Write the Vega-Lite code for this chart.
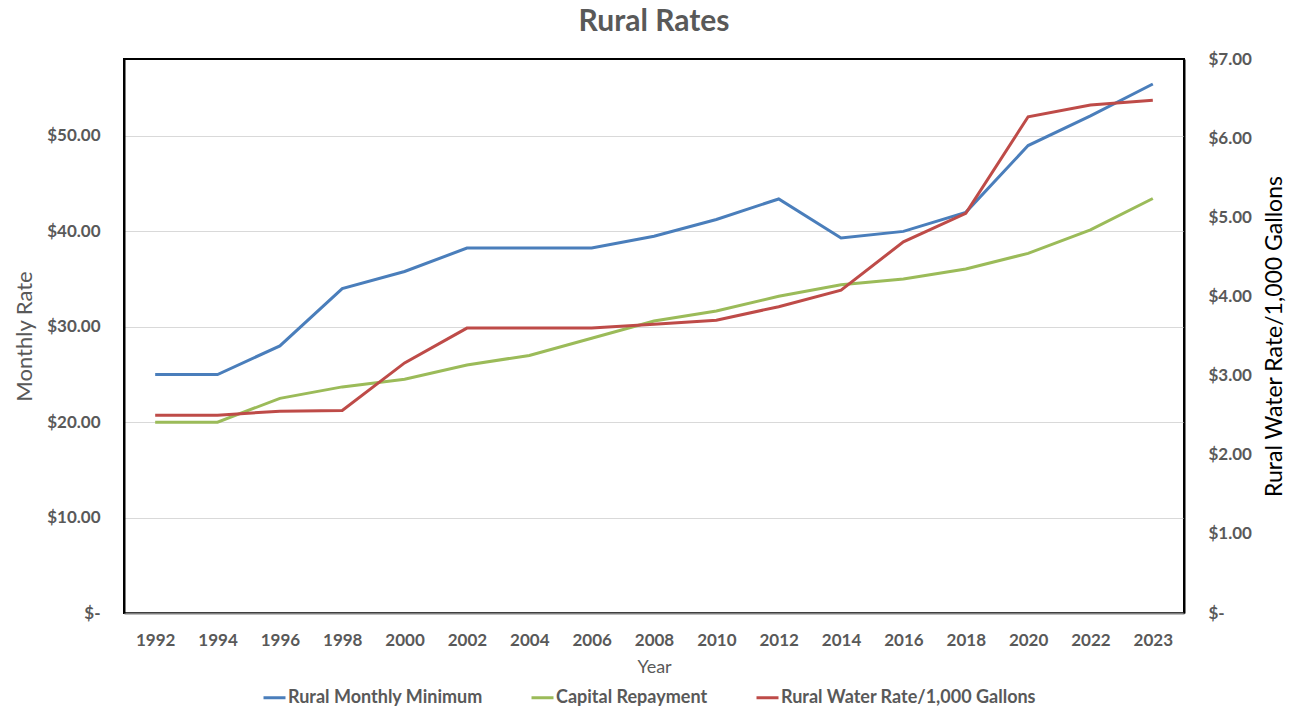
{
  "$schema": "https://vega.github.io/schema/vega-lite/v6.json",
  "width": 1060,
  "height": 554,
  "autosize": {"type": "none"},
  "padding": {"left": 124, "top": 59, "right": 115, "bottom": 95},
  "background": "white",
  "title": {
    "text": "Rural Rates",
    "font": "Lato",
    "fontSize": 30,
    "fontWeight": "bold",
    "color": "#595959",
    "offset": 13,
    "anchor": "middle"
  },
  "config": {
    "view": {"stroke": "black", "strokeWidth": 2},
    "font": "Lato"
  },
  "data": {
    "values": [
      {"year": "1992", "series": "Rural Monthly Minimum", "value": 25.0},
      {"year": "1994", "series": "Rural Monthly Minimum", "value": 25.0},
      {"year": "1996", "series": "Rural Monthly Minimum", "value": 28.0},
      {"year": "1998", "series": "Rural Monthly Minimum", "value": 34.0},
      {"year": "2000", "series": "Rural Monthly Minimum", "value": 35.8},
      {"year": "2002", "series": "Rural Monthly Minimum", "value": 38.25},
      {"year": "2004", "series": "Rural Monthly Minimum", "value": 38.25},
      {"year": "2006", "series": "Rural Monthly Minimum", "value": 38.25},
      {"year": "2008", "series": "Rural Monthly Minimum", "value": 39.5},
      {"year": "2010", "series": "Rural Monthly Minimum", "value": 41.25},
      {"year": "2012", "series": "Rural Monthly Minimum", "value": 43.4},
      {"year": "2014", "series": "Rural Monthly Minimum", "value": 39.3},
      {"year": "2016", "series": "Rural Monthly Minimum", "value": 40.0},
      {"year": "2018", "series": "Rural Monthly Minimum", "value": 42.0},
      {"year": "2020", "series": "Rural Monthly Minimum", "value": 49.0},
      {"year": "2022", "series": "Rural Monthly Minimum", "value": 52.1},
      {"year": "2023", "series": "Rural Monthly Minimum", "value": 55.45},
      {"year": "1992", "series": "Capital Repayment", "value": 20.0},
      {"year": "1994", "series": "Capital Repayment", "value": 20.0},
      {"year": "1996", "series": "Capital Repayment", "value": 22.5},
      {"year": "1998", "series": "Capital Repayment", "value": 23.7},
      {"year": "2000", "series": "Capital Repayment", "value": 24.5},
      {"year": "2002", "series": "Capital Repayment", "value": 26.0},
      {"year": "2004", "series": "Capital Repayment", "value": 27.0},
      {"year": "2006", "series": "Capital Repayment", "value": 28.8},
      {"year": "2008", "series": "Capital Repayment", "value": 30.6},
      {"year": "2010", "series": "Capital Repayment", "value": 31.65},
      {"year": "2012", "series": "Capital Repayment", "value": 33.2},
      {"year": "2014", "series": "Capital Repayment", "value": 34.4},
      {"year": "2016", "series": "Capital Repayment", "value": 35.0},
      {"year": "2018", "series": "Capital Repayment", "value": 36.05},
      {"year": "2020", "series": "Capital Repayment", "value": 37.7},
      {"year": "2022", "series": "Capital Repayment", "value": 40.15},
      {"year": "2023", "series": "Capital Repayment", "value": 43.45},
      {"year": "1992", "series": "Rural Water Rate/1,000 Gallons", "value": 2.5},
      {"year": "1994", "series": "Rural Water Rate/1,000 Gallons", "value": 2.5},
      {"year": "1996", "series": "Rural Water Rate/1,000 Gallons", "value": 2.55},
      {"year": "1998", "series": "Rural Water Rate/1,000 Gallons", "value": 2.56},
      {"year": "2000", "series": "Rural Water Rate/1,000 Gallons", "value": 3.16},
      {"year": "2002", "series": "Rural Water Rate/1,000 Gallons", "value": 3.6},
      {"year": "2004", "series": "Rural Water Rate/1,000 Gallons", "value": 3.6},
      {"year": "2006", "series": "Rural Water Rate/1,000 Gallons", "value": 3.6},
      {"year": "2008", "series": "Rural Water Rate/1,000 Gallons", "value": 3.65},
      {"year": "2010", "series": "Rural Water Rate/1,000 Gallons", "value": 3.7},
      {"year": "2012", "series": "Rural Water Rate/1,000 Gallons", "value": 3.87},
      {"year": "2014", "series": "Rural Water Rate/1,000 Gallons", "value": 4.08},
      {"year": "2016", "series": "Rural Water Rate/1,000 Gallons", "value": 4.69},
      {"year": "2018", "series": "Rural Water Rate/1,000 Gallons", "value": 5.05},
      {"year": "2020", "series": "Rural Water Rate/1,000 Gallons", "value": 6.27},
      {"year": "2022", "series": "Rural Water Rate/1,000 Gallons", "value": 6.42},
      {"year": "2023", "series": "Rural Water Rate/1,000 Gallons", "value": 6.48}
    ]
  },
  "encoding": {
    "x": {
      "field": "year",
      "type": "ordinal",
      "scale": {"type": "point", "padding": 0.5},
      "axis": {
        "title": "Year",
        "labelAngle": 0,
        "labelFont": "Lato",
        "labelFontSize": 17,
        "labelFontWeight": "bold",
        "labelColor": "#595959",
        "labelPadding": 19,
        "titleFont": "Lato",
        "titleFontSize": 18,
        "titleFontWeight": "normal",
        "titleColor": "#595959",
        "titlePadding": 10,
        "ticks": false,
        "domainColor": "#7f7f7f",
        "domainWidth": 2,
        "grid": false
      }
    },
    "color": {
      "field": "series",
      "type": "nominal",
      "scale": {
        "domain": ["Rural Monthly Minimum", "Capital Repayment", "Rural Water Rate/1,000 Gallons"],
        "range": ["#4A7EBB", "#9BBB59", "#BE4B48"]
      },
      "legend": {
        "title": null,
        "orient": "none",
        "legendX": 138,
        "legendY": 626,
        "direction": "horizontal",
        "symbolType": "stroke",
        "symbolSize": 484,
        "symbolStrokeWidth": 3,
        "labelFont": "Lato",
        "labelFontSize": 18,
        "labelFontWeight": "bold",
        "labelColor": "#595959",
        "labelLimit": 0,
        "labelOffset": 1,
        "columnPadding": 42
      }
    }
  },
  "layer": [
    {
      "transform": [{"filter": "datum.series != 'Rural Water Rate/1,000 Gallons'"}],
      "mark": {"type": "line", "strokeWidth": 3},
      "encoding": {
        "y": {
          "field": "value",
          "type": "quantitative",
          "scale": {"domain": [0, 58.07], "nice": false, "zero": true},
          "axis": {
            "title": "Monthly Rate",
            "values": [0, 10, 20, 30, 40, 50],
            "labelExpr": "datum.value == 0 ? '$-\u00a0\u00a0\u00a0' : format(datum.value, '$,.2f')",
            "labelFont": "Lato",
            "labelFontSize": 17,
            "labelFontWeight": "bold",
            "labelColor": "#595959",
            "labelPadding": 24,
            "titleFont": "Lato",
            "titleFontSize": 22,
            "titleFontWeight": "normal",
            "titleColor": "#595959",
            "titlePadding": 10,
            "ticks": false,
            "domainColor": "black",
            "domainWidth": 2,
            "grid": true,
            "gridColor": "#d9d9d9",
            "gridWidth": 1
          }
        }
      }
    },
    {
      "transform": [{"filter": "datum.series == 'Rural Water Rate/1,000 Gallons'"}],
      "mark": {"type": "line", "strokeWidth": 3},
      "encoding": {
        "y": {
          "field": "value",
          "type": "quantitative",
          "scale": {"domain": [0, 7], "nice": false, "zero": true},
          "axis": {
            "orient": "right",
            "title": "Rural Water Rate/1,000 Gallons",
            "titleAngle": 270,
            "titleBaseline": "top",
            "values": [0, 1, 2, 3, 4, 5, 6, 7],
            "labelExpr": "datum.value == 0 ? '$-' : format(datum.value, '$,.2f')",
            "labelFont": "Lato",
            "labelFontSize": 17,
            "labelFontWeight": "bold",
            "labelColor": "#595959",
            "labelPadding": 24,
            "titleFont": "Lato",
            "titleFontSize": 23,
            "titleFontWeight": "normal",
            "titleColor": "black",
            "titlePadding": 12,
            "ticks": false,
            "domainColor": "black",
            "domainWidth": 2,
            "grid": false
          }
        }
      }
    }
  ],
  "resolve": {"scale": {"y": "independent"}}
}
